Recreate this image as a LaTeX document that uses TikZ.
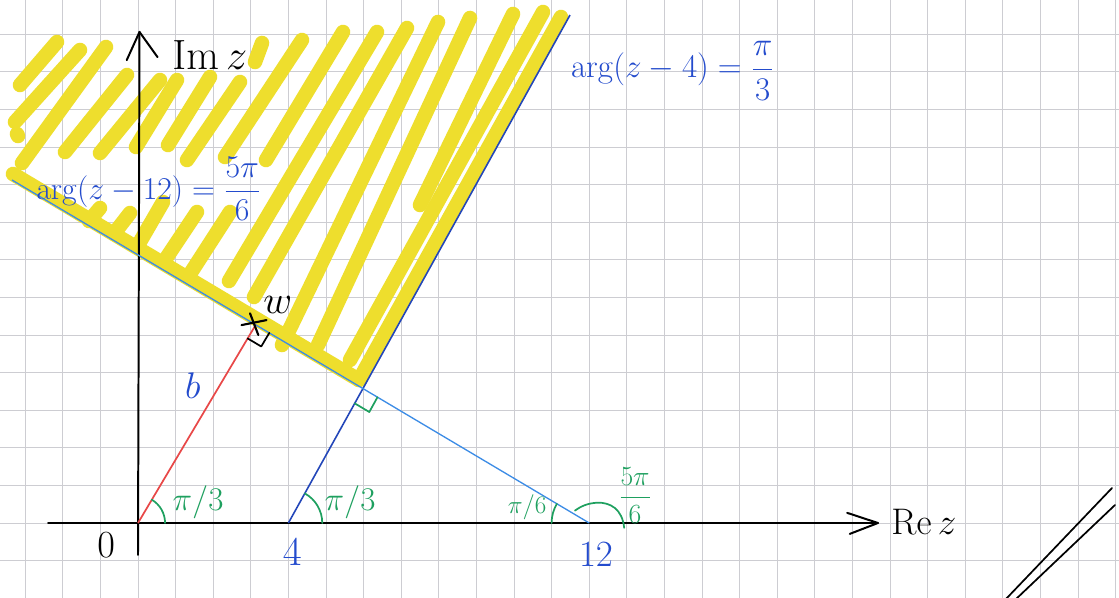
\documentclass[tikz,border=0pt]{standalone}
\usetikzlibrary{calc}
\definecolor{inkblue}{RGB}{35,75,205}
\definecolor{lineAcol}{RGB}{35,70,185}
\definecolor{lineBcol}{RGB}{60,140,230}
\definecolor{inkgreen}{RGB}{30,160,95}
\definecolor{inkred}{RGB}{232,72,72}
\definecolor{hiyellow}{RGB}{238,222,45}
\definecolor{gridgray}{RGB}{205,205,210}
\begin{document}
\begin{tikzpicture}[
  hatch/.style={hiyellow, line width=11pt, line cap=round},
  axisline/.style={black, line width=1.5pt, line cap=round, line join=round},
  ink/.style={line width=1.3pt, line cap=round, line join=round},
  lab/.style={inner sep=0pt},
  fs/.style={font=\fontsize{20.74}{24}\selectfont, scale=#1/20.74},
]
\useasboundingbox (-3.6702,-1.9947) rectangle (26.0904,13.9096);
\fill[white] (-3.6702,-1.9947) rectangle (26.0904,13.9096);
\draw[gridgray, line width=0.5pt] (-3.6702,-1.9947) grid (26.0904,13.9096);

% yellow hatching and the free strokes, in pixel coordinates of the sheet
\begin{scope}[x=0.026596cm, y=-0.026596cm, shift={(-3.6702cm,13.9096cm)}]
  \draw[hatch] (57,42) -- (20,85);
  \draw[hatch] (80,50) -- (15,122);
  \draw[hatch] (17,134) -- (18,136);
  \draw[hatch] (106,47) -- (22,163);
  \draw[hatch] (127,75) -- (65,152);
  \draw[hatch] (160,80) -- (100,153);
  \draw[hatch] (177,80) -- (136,147);
  \draw[hatch] (210,77) -- (168,145);
  \draw[hatch] (240,82) -- (187,160);
  \draw[hatch] (262,43) -- (255,62);
  \draw[hatch] (302,40) -- (225,157);
  \draw[hatch] (343,32) -- (266,160);
  \draw[hatch] (377,32) -- (229,281);
  \draw[hatch] (407,28) -- (254,297);
  \draw[hatch] (438,22) -- (282,345);
  \draw[hatch] (470,18) -- (318,345);
  \draw[hatch] (513,14) -- (420,205);
  \draw[hatch] (543,12) -- (350,360);
  \draw[hatch] (561,17) -- (359,380);
  \draw[hatch] (13,174) -- (359,380);
  \draw[hatch] (163,202) -- (137,247);
  \draw[hatch] (197,212) -- (167,257);
  \draw[hatch] (230,212) -- (190,274);
  \draw[hatch] (100,208) -- (89,221);
  \draw[hatch] (130,213) -- (116,231);
  % double slash at the bottom right
  \draw[black, ink] (1112,488) -- (1005,600);
  \draw[black, ink] (1115,505) -- (1015,600);
\end{scope}

\coordinate (O) at (0,0);
\coordinate (A0) at (4,0);
\coordinate (A1) at (11.49,13.51);
\coordinate (B0) at (12,0);
\coordinate (B1) at (-3.351,9.122);
\coordinate (P) at (5.9823,3.5756);
\coordinate (w) at (3.131,5.270);
\coordinate (xL) at (-2.39,0);
\coordinate (xR) at (19.68,0);
\coordinate (yB) at (0,-0.85);
\coordinate (yT) at (0.04,13.06);

% axes
\draw[axisline] (xL) -- (xR);
\draw[axisline] (xR) ++(-0.82,0.27) -- (xR) -- ++(-0.75,-0.29);
\draw[axisline] (yB) -- (yT);
\draw[axisline] (yT) ++(-0.34,-0.75) -- (yT) -- ++(0.48,-0.67);

% the two half-lines and the distance b
\draw[lineAcol, line width=1.2pt] (A0) -- (A1);
\draw[lineBcol, line width=1pt] (B0) -- (B1);
\draw[inkred, line width=1.3pt] (O) -- (w);

% right-angle marks
\draw[black, ink] (2.9165,4.9089) -- (3.2776,4.6944) -- (3.4921,5.0555);
\draw[inkgreen, ink] (5.7641,3.182) -- (6.151,2.952) -- (6.3692,3.3457);

% cross at w
\draw[black, ink, line width=1.6pt] (w) ++(-0.378,-0.007) -- ++(0.665,0.133);
\draw[black, ink, line width=1.6pt] (w) ++(-0.152,0.307) -- ++(0.221,-0.577);

% angle arcs
\draw[inkgreen, ink] (O) ++(0:0.72) arc[start angle=0, end angle=59.3, radius=0.72];
\draw[inkgreen, ink] (A0) ++(0:0.9) arc[start angle=0, end angle=61, radius=0.9];
\draw[inkgreen, ink] (B0) ++(149.3:1.0) arc[start angle=149.3, end angle=180, radius=1.0];
\draw[inkgreen, ink] (12.93,-0.13) .. controls (12.88,0.38) and (12.55,0.55) .. (12.22,0.54)
  .. controls (11.98,0.53) and (11.78,0.45) .. (11.62,0.33);

% labels
\node[lab, fs=25, text=inkgreen] (t1) at (1.60,0.56) {$\pi/3$};
\node[lab, fs=25, text=inkgreen] (t2) at (5.64,0.56) {$\pi/3$};
\node[lab, fs=19, text=inkgreen] (t3) at (10.35,0.42) {$\pi/6$};
\node[lab, fs=21, text=inkgreen] (t4) at (13.22,0.74) {$\displaystyle\frac{5\pi}{6}$};
\node[lab, fs=29, text=black] (n0) at (-0.85,-0.585) {$0$};
\node[lab, fs=31, text=inkblue] (n4) at (4.10,-0.77) {$4$};
\node[lab, fs=28, text=inkblue] (n12) at (12.18,-0.85) {$12$};
\node[lab, fs=28, text=inkblue] (nb) at (1.46,3.64) {$b$};
\node[lab, fs=30, text=black] (nw) at (3.72,5.80) {$w$};
\node[lab, fs=32, text=black] (nim) at (1.91,12.45) {$\mathrm{Im}\,z$};
\node[lab, fs=28, text=black] (nre) at (20.90,0.03) {$\mathrm{Re}\,z$};
\node[lab, fs=24, text=inkblue] (lb) at (0.28,8.88) {$\arg(z-12)=\displaystyle\frac{5\pi}{6}$};
\node[lab, fs=25, text=inkblue] (la) at (14.22,12.02) {$\arg(z-4)=\displaystyle\frac{\pi}{3}$};
\end{tikzpicture}
\end{document}
